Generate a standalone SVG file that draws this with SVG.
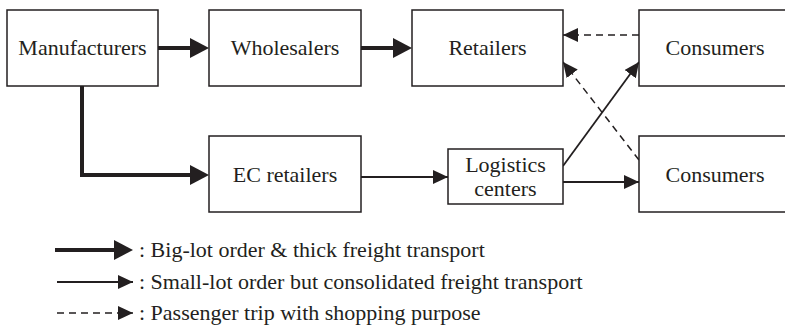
<svg xmlns="http://www.w3.org/2000/svg" width="785" height="326" viewBox="0 0 785 326">
  <style>
    .box { fill: #ffffff; stroke: #231f20; stroke-width: 1.5; }
    .lbl { font-family: "Liberation Serif", "Times New Roman", serif; font-size: 22px; fill: #231f20; text-anchor: middle; }
    .leg { font-family: "Liberation Serif", "Times New Roman", serif; font-size: 22px; fill: #231f20; }
    .thick { fill: none; stroke: #231f20; stroke-width: 4; }
    .thin { fill: none; stroke: #231f20; stroke-width: 1.8; }
    .dash { fill: none; stroke: #231f20; stroke-width: 1.5; stroke-dasharray: 7 5; }
  </style>
  <defs>
    <marker id="headBig" markerUnits="userSpaceOnUse" markerWidth="19" markerHeight="20" refX="11" refY="10" orient="auto">
      <path d="M0,0 L19,10 L0,20 z" fill="#231f20"/>
    </marker>
    <marker id="headSmall" markerUnits="userSpaceOnUse" markerWidth="15" markerHeight="14" refX="15" refY="7" orient="auto">
      <path d="M0,0 L15,7 L0,14 z" fill="#231f20"/>
    </marker>
  </defs>

  <rect width="785" height="326" fill="#ffffff"/>

  <!-- connectors -->
  <g id="connectors">
    <path class="thick" d="M158,48 H201" marker-end="url(#headBig)"/>
    <path class="thick" d="M361,48 H404" marker-end="url(#headBig)"/>
    <path class="thick" d="M82,86 V175 H201" marker-end="url(#headBig)"/>
    <path class="thin" d="M361,177 H448" marker-end="url(#headSmall)"/>
    <path class="thin" d="M563,182 H639" marker-end="url(#headSmall)"/>
    <path class="thin" d="M563,166 L639,62" marker-end="url(#headSmall)"/>
    <path class="dash" d="M639,35 H563" marker-end="url(#headSmall)"/>
    <path class="dash" d="M639,160 L563,62" marker-end="url(#headSmall)"/>
  </g>

  <!-- nodes -->
  <g id="manufacturers">
    <rect class="box" x="7" y="10" width="151" height="76"/>
    <text class="lbl" x="82.5" y="55">Manufacturers</text>
  </g>
  <g id="wholesalers">
    <rect class="box" x="209" y="10" width="152" height="76"/>
    <text class="lbl" x="285" y="55">Wholesalers</text>
  </g>
  <g id="retailers">
    <rect class="box" x="412" y="10" width="151" height="76"/>
    <text class="lbl" x="487.5" y="55">Retailers</text>
  </g>
  <g id="consumers-top">
    <rect class="box" x="639" y="10" width="152" height="76"/>
    <text class="lbl" x="715" y="55">Consumers</text>
  </g>
  <g id="ec-retailers">
    <rect class="box" x="209" y="136" width="152" height="76"/>
    <text class="lbl" x="285" y="182">EC retailers</text>
  </g>
  <g id="logistics-centers">
    <rect class="box" x="448" y="149" width="115" height="55"/>
    <text class="lbl" x="505.5" y="172">Logistics</text>
    <text class="lbl" x="505.5" y="196">centers</text>
  </g>
  <g id="consumers-bottom">
    <rect class="box" x="639" y="136" width="152" height="76"/>
    <text class="lbl" x="715" y="182">Consumers</text>
  </g>

  <!-- legend -->
  <g id="legend">
    <path class="thick" d="M55,250 H125" marker-end="url(#headBig)"/>
    <text class="leg" x="139" y="257">: Big-lot order &amp; thick freight transport</text>
    <path class="thin" d="M57,282 H133" marker-end="url(#headSmall)"/>
    <text class="leg" x="139" y="289">: Small-lot order but consolidated freight transport</text>
    <path class="dash" d="M57,313 H133" marker-end="url(#headSmall)"/>
    <text class="leg" x="139" y="320">: Passenger trip with shopping purpose</text>
  </g>
</svg>
